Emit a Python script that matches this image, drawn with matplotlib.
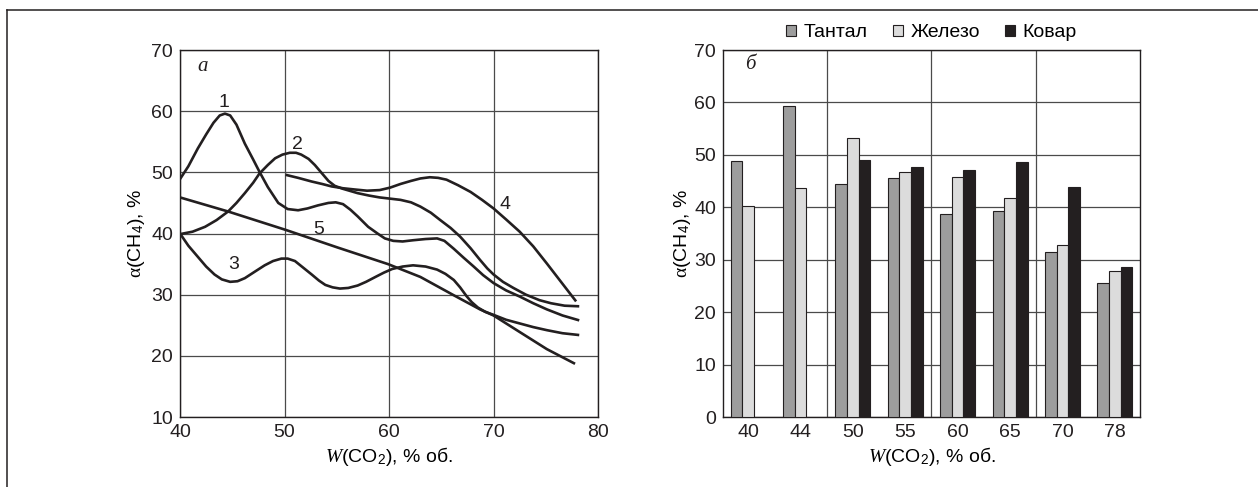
import numpy as np
import matplotlib.pyplot as plt
from matplotlib.lines import Line2D

plt.rcParams['font.family'] = ['Liberation Sans', 'DejaVu Sans']
plt.rcParams['mathtext.fontset'] = 'custom'
plt.rcParams['mathtext.rm'] = 'Liberation Serif'
plt.rcParams['mathtext.it'] = 'Liberation Serif:italic'
plt.rcParams['mathtext.sf'] = 'Liberation Sans'

# (а) curves: points
c1_x = [40.0, 40.8, 41.7, 42.5, 43.2, 43.8, 44.3, 44.8, 45.4, 46.2, 47.0, 47.6, 48.4, 49.4, 50.3, 51.3,
        52.2, 53.2, 54.2, 54.9, 55.6, 56.3, 57.0, 58.0, 58.9, 59.6, 60.4, 61.3, 62.3, 63.5, 64.6, 65.3,
        66.2, 67.1, 68.1, 69.0, 70.0, 71.2, 72.5, 73.8, 75.1, 76.6, 78.2]
c1_y = [48.9, 51.0, 53.9, 56.2, 58.1, 59.3, 59.6, 59.3, 57.8, 54.7, 52.1, 50.1, 47.6, 45.0, 44.0, 43.8,
        44.1, 44.6, 45.0, 45.1, 44.8, 43.9, 42.8, 41.1, 40.0, 39.2, 38.8, 38.7, 38.9, 39.1, 39.2, 38.8,
        37.5, 36.1, 34.6, 33.2, 31.9, 30.7, 29.7, 28.6, 27.6, 26.6, 25.8]

c2_x = [40.0, 41.2, 42.4, 43.5, 44.6, 45.4, 46.2, 47.0, 47.6, 48.4, 49.1, 49.8, 50.5, 51.1, 51.6, 52.3,
        52.9, 53.6, 54.2, 54.8, 55.6, 57.0, 58.1, 59.1, 60.1, 61.1, 62.1, 63.0, 64.0, 64.9, 65.9, 66.8,
        67.8, 68.7, 69.4, 70.0, 70.9, 71.9, 73.1, 74.4, 75.5, 76.8, 78.2]
c2_y = [39.9, 40.3, 41.1, 42.2, 43.6, 45.0, 46.6, 48.3, 49.8, 51.2, 52.3, 52.9, 53.2, 53.2, 52.9, 52.2,
        51.2, 49.8, 48.6, 47.8, 47.3, 46.6, 46.2, 45.9, 45.7, 45.5, 45.1, 44.4, 43.4, 42.2, 40.9, 39.5,
        37.6, 35.7, 34.3, 33.3, 32.1, 31.1, 30.0, 29.1, 28.6, 28.2, 28.1]

c3_x = [40.0, 40.8, 41.7, 42.5, 43.3, 44.0, 44.8, 45.5, 46.2, 47.1, 48.1, 48.9, 49.7, 50.3, 51.0, 51.8,
        52.6, 53.3, 53.9, 54.6, 55.3, 56.1, 57.0, 57.8, 58.7, 59.5, 60.3, 61.3, 62.3, 63.5, 64.6, 65.4,
        66.2, 66.8, 67.4, 67.9, 68.5, 69.2, 70.0, 71.2, 72.5, 73.8, 75.1, 76.6, 78.2]
c3_y = [40.0, 38.0, 36.2, 34.6, 33.3, 32.5, 32.1, 32.2, 32.7, 33.7, 34.8, 35.5, 35.9, 35.9, 35.5, 34.4,
        33.3, 32.3, 31.6, 31.2, 31.0, 31.1, 31.5, 32.1, 32.9, 33.6, 34.2, 34.6, 34.8, 34.6, 34.1, 33.4,
        32.4, 31.2, 29.8, 28.8, 27.9, 27.2, 26.7, 25.9, 25.3, 24.7, 24.2, 23.7, 23.4]

c4_x = [50.1, 51.3, 52.6, 53.6, 54.5, 55.6, 56.7, 57.9, 59.1, 60.1, 61.1, 62.1, 63.0, 63.9, 64.7, 65.5,
        66.6, 67.8, 68.9, 70.0, 71.2, 72.5, 73.8, 75.1, 76.5, 77.9]
c4_y = [49.6, 49.1, 48.5, 48.1, 47.7, 47.4, 47.2, 47.0, 47.1, 47.5, 48.1, 48.6, 49.0, 49.2, 49.1, 48.8,
        47.9, 46.8, 45.5, 44.1, 42.3, 40.3, 37.9, 35.1, 32.0, 28.9]

c5_x = [40.0, 44.6, 50.1, 55.1, 59.9, 63.0, 66.2, 68.7, 70.0, 72.5, 75.1, 77.8]
c5_y = [45.9, 43.6, 40.6, 37.7, 35.0, 32.9, 29.9, 27.6, 26.6, 23.9, 21.1, 18.7]

curve_labels = ['1', '2', '3', '4', '5']
label_x = [44.2, 51.2, 45.1, 71.1, 53.3]
label_y = [61.5, 54.6, 35.0, 44.8, 40.7]

# (б) bars
groups = ['40', '44', '50', '55', '60', '65', '70', '78']
tantal = [48.9, 59.4, 44.4, 45.5, 38.7, 39.3, 31.5, 25.5]
zhelezo = [40.2, 43.6, 53.2, 46.8, 45.7, 41.8, 32.8, 27.9]
kovar = [np.nan, np.nan, 49.0, 47.6, 47.2, 48.7, 43.8, 28.7]

ink = '#231f20'
grid_c = '#4a4a4a'
fs = 14

fig = plt.figure(figsize=(12.58, 4.87), dpi=100)

# --- left chart
ax1 = fig.add_axes([0.1431, 0.1437, 0.3323, 0.7536])
for xs, ys in [(c1_x, c1_y), (c2_x, c2_y), (c3_x, c3_y), (c4_x, c4_y), (c5_x, c5_y)]:
    ax1.plot(xs, ys, color=ink, lw=1.9, solid_joinstyle='round', solid_capstyle='butt', zorder=3)
for t, x, y in zip(curve_labels, label_x, label_y):
    ax1.text(x, y, t, fontsize=fs, ha='center', va='center', color=ink, zorder=4)
ax1.text(42.2, 67.3, 'а', fontsize=15, style='italic', family='Liberation Serif',
         ha='center', va='center', color=ink)
ax1.set_xlim(40, 80)
ax1.set_ylim(10, 70)
ax1.set_xticks([40, 50, 60, 70, 80])
ax1.set_yticks([10, 20, 30, 40, 50, 60, 70])
ax1.grid(True, color=grid_c, lw=0.9)
ax1.set_axisbelow(True)
ax1.set_xlabel(r'$\mathit{W}$(CO$_\mathsf{2}$), % об.', fontsize=fs, labelpad=3)
ax1.set_ylabel(r'$\mathrm{\alpha}$(CH$_\mathsf{4}$), %', fontsize=fs, labelpad=3)

# --- right chart
ax2 = fig.add_axes([0.5747, 0.1437, 0.3315, 0.7536])
pos = np.arange(len(groups))
w = 0.222
ax2.bar(pos - w, tantal, w, color='#9d9d9d', edgecolor=ink, lw=0.8, label='Тантал', zorder=3)
ax2.bar(pos, zhelezo, w, color='#dcdcdc', edgecolor=ink, lw=0.8, label='Железо', zorder=3)
ax2.bar(pos + w, kovar, w, color=ink, edgecolor=ink, lw=0.8, label='Ковар', zorder=3)
ax2.set_xlim(-0.48, 7.48)
ax2.set_ylim(0, 70)
ax2.set_xticks(pos)
ax2.set_xticklabels(groups)
ax2.set_yticks(range(0, 71, 10))
ax2.yaxis.grid(True, color=grid_c, lw=0.9)
for xv in [1.5, 3.5, 5.5]:
    ax2.axvline(xv, color=grid_c, lw=0.9, zorder=1)
ax2.set_axisbelow(True)
ax2.text(0.04, 67.2, 'б', fontsize=15, style='italic', family='Liberation Serif',
         ha='center', va='center', color=ink)
ax2.set_xlabel(r'$\mathit{W}$(CO$_\mathsf{2}$), % об.', fontsize=fs, labelpad=3)
ax2.set_ylabel(r'$\mathrm{\alpha}$(CH$_\mathsf{4}$), %', fontsize=fs, labelpad=1)
ax2.legend(loc='lower center', bbox_to_anchor=(0.5, 1.0), ncol=3, frameon=False, fontsize=14,
           handlelength=0.5, handleheight=0.5, handletextpad=0.4, columnspacing=1.3,
           borderaxespad=0.05)

for ax in (ax1, ax2):
    ax.tick_params(length=0, pad=5, labelsize=fs, colors=ink)
    for s in ax.spines.values():
        s.set_color(ink)
        s.set_linewidth(1.0)

# outer frame (top and left only)
fig.add_artist(Line2D([0.0055, 0.0055], [0.0, 0.979], color=ink, lw=1.1, transform=fig.transFigure))
fig.add_artist(Line2D([0.0055, 1.0], [0.979, 0.979], color=ink, lw=1.1, transform=fig.transFigure))

plt.savefig('out.png', dpi=100)
